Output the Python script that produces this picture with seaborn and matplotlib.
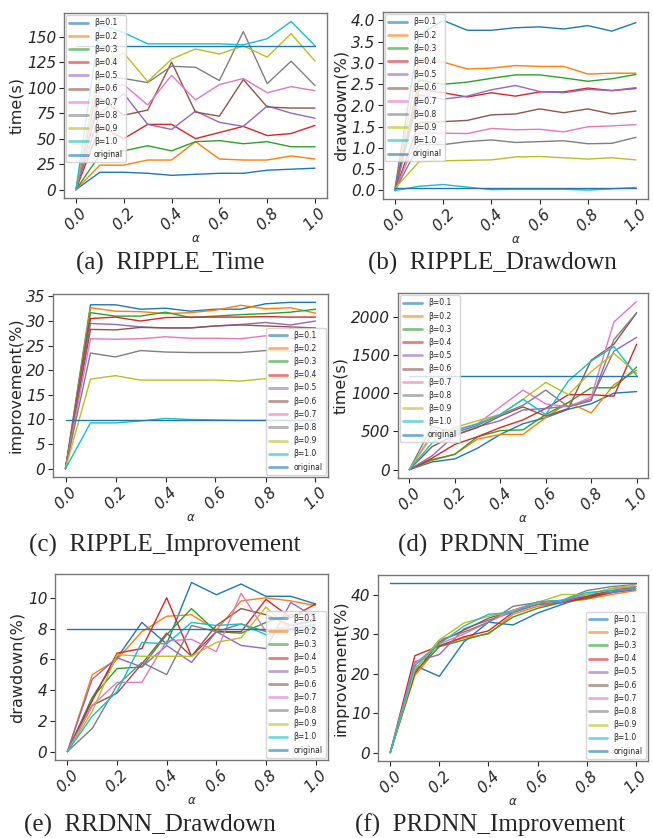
import numpy as np
import pandas as pd
import seaborn as sns
import matplotlib.pyplot as plt

sns.set_style("ticks")
plt.rcParams['font.family'] = ['DejaVu Sans']

# ======================
# data

alpha = [0.0, 0.1, 0.2, 0.3, 0.4, 0.5, 0.6, 0.7, 0.8, 0.9, 1.0]
betas = ['0.1', '0.2', '0.3', '0.4', '0.5', '0.6', '0.7', '0.8', '0.9', '1.0']

ripple_time = [
    [0, 17, 17, 16, 14, 15, 16, 16, 19, 20, 21],
    [0, 24, 24, 29, 29, 47, 30, 29, 29, 33, 30],
    [0, 34, 38, 43, 38, 47, 48, 45, 47, 42, 42],
    [0, 62, 50, 64, 64, 50, 56, 62, 53, 55, 63],
    [0, 75, 94, 64, 59, 77, 66, 62, 82, 75, 70],
    [0, 90, 73, 78, 125, 76, 72, 108, 81, 80, 80],
    [0, 97, 103, 83, 112, 88, 103, 109, 95, 101, 97],
    [0, 110, 109, 105, 121, 120, 107, 155, 104, 126, 102],
    [0, 124, 134, 106, 128, 138, 133, 141, 130, 153, 126],
    [0, 162, 154, 143, 143, 143, 143, 142, 148, 165, 141],
]
ripple_time_orig = 141

ripple_drawdown = [
    [0.05, 3.66, 4.0, 3.77, 3.77, 3.83, 3.85, 3.8, 3.88, 3.75, 3.95],
    [0.0, 3.1, 3.02, 2.86, 2.88, 2.94, 2.92, 2.92, 2.74, 2.76, 2.76],
    [0.0, 2.6, 2.5, 2.55, 2.64, 2.72, 2.72, 2.65, 2.57, 2.63, 2.73],
    [0.0, 2.38, 2.3, 2.2, 2.3, 2.22, 2.32, 2.32, 2.41, 2.35, 2.4],
    [0.0, 2.25, 2.15, 2.22, 2.37, 2.47, 2.33, 2.3, 2.38, 2.35, 2.42],
    [0.0, 1.6, 1.62, 1.65, 1.78, 1.8, 1.92, 1.83, 1.92, 1.8, 1.87],
    [0.0, 1.35, 1.35, 1.34, 1.46, 1.43, 1.44, 1.38, 1.5, 1.52, 1.55],
    [0.0, 1.08, 1.08, 1.15, 1.19, 1.13, 1.15, 1.17, 1.1, 1.11, 1.25],
    [0.05, 0.68, 0.7, 0.71, 0.72, 0.79, 0.8, 0.77, 0.74, 0.77, 0.72],
    [0.0, 0.1, 0.14, 0.08, 0.02, 0.03, 0.03, 0.03, 0.01, 0.04, 0.07],
]
ripple_drawdown_orig = 0.07

ripple_improvement = [
    [0, 33.3, 33.3, 32.4, 32.6, 32.0, 32.4, 32.4, 33.5, 33.8, 33.8],
    [0, 32.7, 32.0, 31.9, 31.5, 31.7, 32.2, 33.2, 32.5, 32.7, 31.6],
    [0, 31.7, 31.0, 31.0, 31.8, 30.7, 31.0, 31.3, 31.5, 31.8, 32.4],
    [0, 30.5, 30.8, 30.0, 30.7, 30.8, 30.8, 30.8, 30.9, 30.8, 30.8],
    [0, 29.5, 29.3, 28.8, 28.6, 28.6, 29.0, 29.3, 29.7, 29.2, 30.0],
    [0, 28.3, 28.2, 28.7, 28.6, 28.6, 29.0, 29.2, 29.0, 28.8, 28.6],
    [0, 26.4, 26.3, 26.4, 26.8, 26.5, 26.5, 26.4, 27.0, 26.5, 26.4],
    [0, 23.5, 22.7, 24.0, 23.7, 23.6, 23.6, 23.6, 24.0, 23.9, 24.0],
    [0, 18.2, 18.9, 18.0, 18.0, 18.0, 18.0, 17.8, 18.3, 18.5, 18.5],
    [0, 9.3, 9.3, 9.7, 10.2, 10.0, 9.9, 9.8, 9.8, 9.8, 9.8],
]
ripple_improvement_orig = 9.8

prdnn_time = [
    [0, 100, 140, 280, 460, 600, 680, 790, 860, 1000, 1020],
    [0, 120, 200, 400, 460, 460, 680, 880, 740, 1110, 1300],
    [0, 130, 200, 430, 510, 520, 720, 880, 1070, 1070, 1340],
    [0, 150, 330, 430, 550, 650, 800, 980, 980, 960, 1640],
    [0, 180, 450, 560, 640, 780, 800, 830, 920, 1550, 1730],
    [0, 300, 450, 550, 700, 820, 700, 800, 1430, 1640, 2050],
    [0, 470, 520, 600, 820, 1040, 860, 820, 950, 1930, 2200],
    [0, 570, 480, 580, 720, 840, 1040, 820, 900, 1700, 2050],
    [0, 440, 550, 640, 720, 920, 1140, 980, 1280, 1520, 1260],
    [0, 350, 500, 600, 720, 920, 720, 1160, 1420, 1610, 1230],
]
prdnn_time_orig = 1230

rrdnn_drawdown = [
    [0, 3.5, 6.1, 8.4, 7.0, 11.0, 10.2, 10.9, 10.1, 10.1, 9.6],
    [0, 5.0, 6.0, 7.8, 8.8, 8.9, 7.9, 9.8, 10.0, 9.8, 9.5],
    [0, 3.5, 5.4, 5.5, 7.6, 9.3, 7.8, 7.7, 8.4, 8.9, 9.0],
    [0, 3.3, 6.4, 6.7, 10.0, 6.2, 7.8, 7.8, 9.9, 8.7, 9.6],
    [0, 4.7, 6.1, 5.5, 6.9, 5.8, 7.8, 6.9, 6.7, 9.7, 8.7],
    [0, 3.0, 3.8, 5.7, 7.7, 6.2, 8.2, 9.3, 8.9, 8.2, 8.5],
    [0, 3.0, 4.5, 4.5, 7.2, 7.3, 6.5, 10.3, 7.8, 8.2, 8.7],
    [0, 1.5, 4.3, 5.8, 5.0, 8.2, 7.8, 8.3, 7.8, 8.0, 8.3],
    [0, 2.6, 6.3, 6.2, 6.2, 6.2, 7.1, 7.4, 9.4, 7.9, 8.0],
    [0, 2.3, 3.9, 7.1, 7.0, 8.4, 8.2, 8.3, 7.6, 8.0, 8.2],
]
rrdnn_drawdown_orig = 8.0

prdnn_improvement = [
    [0, 22.0, 19.3, 28.0, 33.0, 32.3, 35.3, 37.5, 39.5, 40.5, 41.2],
    [0, 19.5, 27.0, 29.0, 30.0, 35.0, 37.0, 38.0, 38.8, 40.0, 41.0],
    [0, 20.5, 26.8, 28.5, 30.2, 34.3, 36.5, 38.0, 39.0, 40.5, 42.0],
    [0, 24.5, 27.0, 29.3, 30.8, 35.5, 37.5, 38.0, 39.2, 40.5, 42.0],
    [0, 23.0, 24.8, 31.3, 33.5, 35.5, 37.5, 38.0, 40.0, 40.5, 41.5],
    [0, 20.0, 28.0, 31.0, 34.0, 36.0, 38.0, 38.5, 39.5, 41.0, 42.0],
    [0, 22.5, 27.5, 30.0, 33.0, 36.0, 38.0, 38.5, 40.0, 41.5, 42.0],
    [0, 21.0, 28.5, 30.5, 33.0, 37.0, 38.0, 38.5, 41.0, 42.0, 42.5],
    [0, 21.0, 28.5, 32.8, 34.5, 35.7, 38.0, 40.0, 40.0, 41.5, 42.5],
    [0, 22.0, 27.5, 32.0, 35.0, 35.5, 38.2, 38.5, 40.5, 41.0, 41.5],
]
prdnn_improvement_orig = 42.8

# y ticks per panel
yt_ripple_time = [0, 25, 50, 75, 100, 125, 150]
yt_ripple_drawdown = [0.0, 0.5, 1.0, 1.5, 2.0, 2.5, 3.0, 3.5, 4.0]
yt_ripple_improvement = [0, 5, 10, 15, 20, 25, 30, 35]
yt_prdnn_time = [0, 500, 1000, 1500, 2000]
yt_rrdnn_drawdown = [0, 2, 4, 6, 8, 10]
yt_prdnn_improvement = [0, 10, 20, 30, 40]

# ======================
# plot

W, H = 653, 838
fig = plt.figure(figsize=(W / 100, H / 100), dpi=100)

labels = ['β=' + b for b in betas] + ['original']
palette = sns.color_palette('tab10', 10) + [sns.color_palette('tab10')[0]]


def make_panel(rect, series, orig, yticks, ylabel, caption, cap_xy, legend_loc):
    l, t, r, b = rect
    ax = fig.add_axes([l / W, 1 - b / H, (r - l) / W, (b - t) / H])

    rows = []
    for lab, vals in zip(labels[:-1], series):
        for a, v in zip(alpha, vals):
            rows.append((a, v, lab))
    for a in alpha:
        rows.append((a, orig, 'original'))
    df = pd.DataFrame(rows, columns=['alpha', 'value', 'beta'])

    sns.lineplot(data=df, x='alpha', y='value', hue='beta', hue_order=labels,
                 palette=palette, linewidth=1.0, ax=ax)
    sns.move_legend(ax, legend_loc, title=None, fontsize=5.5,
                    borderaxespad=0.3, handlelength=2.4, labelspacing=0.55)
    for h in ax.get_legend().get_lines():
        h.set_linewidth(2.0)
        h.set_alpha(0.6)

    ax.set_xticks([0.0, 0.2, 0.4, 0.6, 0.8, 1.0])
    ax.set_yticks(yticks)
    ax.tick_params(axis='x', labelrotation=45, pad=2)
    ax.tick_params(axis='y', pad=2)
    for lbl in ax.get_xticklabels() + ax.get_yticklabels():
        lbl.set_fontstyle('italic')
        lbl.set_fontsize(11)
    ax.set_xlabel(r'$\alpha$', fontsize=8.5, labelpad=-1)
    ax.set_ylabel(ylabel, fontsize=11.5, labelpad=2)
    for s in ax.spines.values():
        s.set_color('#777777')
        s.set_linewidth(1.0)

    fig.text(cap_xy[0] / W, 1 - cap_xy[1] / H, caption, ha='center', va='center',
             fontsize=18, family='Liberation Serif')
    return ax


make_panel((64, 13, 327, 198), ripple_time, ripple_time_orig, yt_ripple_time, 'time(s)',
           '(a)  RIPPLE_Time', (170, 263), 'upper left')
make_panel((383, 12, 648, 199), ripple_drawdown, ripple_drawdown_orig, yt_ripple_drawdown,
           'drawdown(%)', '(b)  RIPPLE_Drawdown', (492, 263), 'upper left')
make_panel((53, 294, 328, 477), ripple_improvement, ripple_improvement_orig,
           yt_ripple_improvement, 'improvement(%)',
           '(c)  RIPPLE_Improvement', (165, 545), 'lower right')
make_panel((398, 293, 648, 478), prdnn_time, prdnn_time_orig, yt_prdnn_time, 'time(s)',
           '(d)  PRDNN_Time', (494, 545), 'upper left')
make_panel((55, 574, 328, 760), rrdnn_drawdown, rrdnn_drawdown_orig, yt_rrdnn_drawdown,
           'drawdown(%)', '(e)  RRDNN_Drawdown', (150, 825), 'lower right')
make_panel((378, 575, 648, 761), prdnn_improvement, prdnn_improvement_orig,
           yt_prdnn_improvement, 'improvement(%)',
           '(f)  PRDNN_Improvement', (490, 825), 'lower right')

plt.savefig('out.png', dpi=100)
plt.close()
